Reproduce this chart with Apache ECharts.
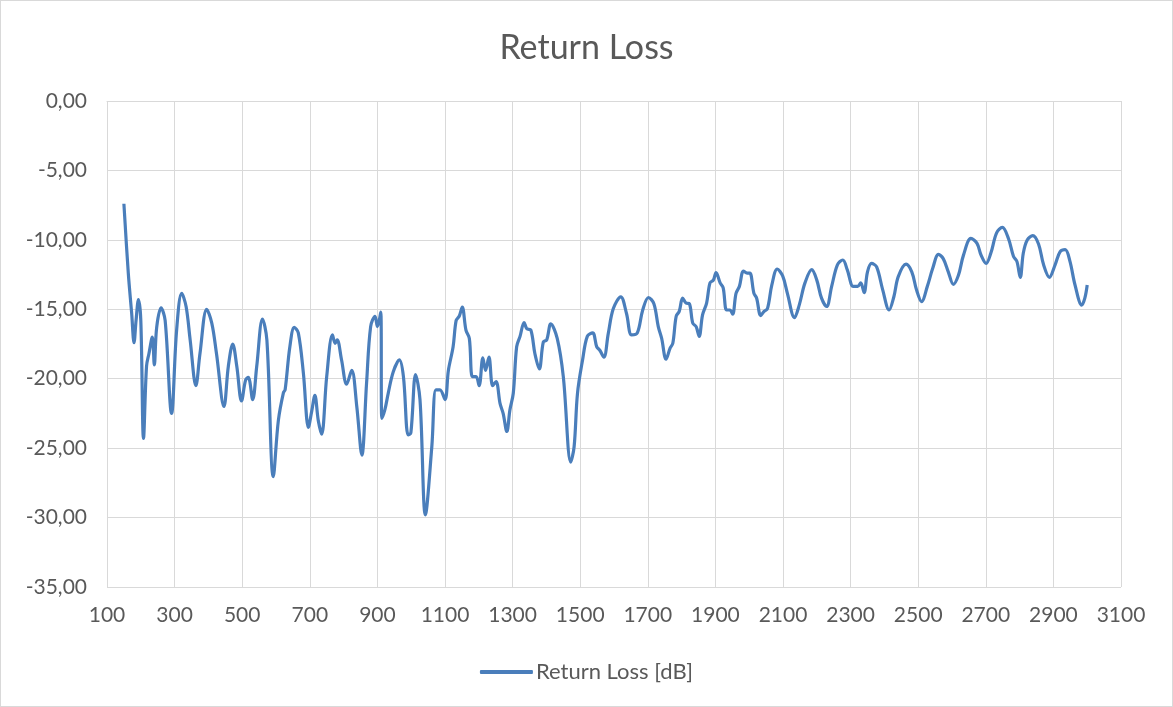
<!DOCTYPE html>
<html>
<head>
<meta charset="utf-8">
<script src="https://cdn.jsdelivr.net/npm/echarts@6/dist/echarts.min.js"></script>
<style>
html,body{margin:0;padding:0;background:#fff;}
#chart{width:1173px;height:707px;box-sizing:border-box;border:1px solid #d9d9d9;}
</style>
</head>
<body>
<div id="chart"></div>
<script>
const titleText = 'Return Loss';
const seriesName = 'Return Loss [dB]';
const freq = [150,163,173,180,186,193,200,208,217,224,234,240,247,260,272,291,306,321,334,346,363,375,395,410,424,446,459,472,484,498,510,518,531,543,560,573,592,607,622,627,641,654,666,681,696,706,715,725,735,750,767,775,781,794,809,824,839,854,868,880,893,900,910,913,922,932,947,965,977,991,999,1013,1026,1042,1061,1073,1085,1100,1110,1124,1133,1142,1151,1162,1172,1181,1192,1201,1212,1220,1230,1241,1251,1263,1272,1283,1292,1302,1312,1322,1334,1342,1354,1366,1379,1391,1401,1413,1432,1450,1472,1482,1492,1507,1521,1537,1549,1558,1570,1583,1598,1620,1637,1652,1669,1685,1702,1718,1731,1741,1754,1766,1774,1784,1793,1803,1813,1823,1833,1843,1852,1862,1874,1884,1894,1902,1914,1923,1933,1943,1951,1961,1971,1983,1994,2002,2014,2022,2034,2044,2054,2067,2083,2099,2113,2134,2148,2165,2185,2200,2214,2229,2244,2261,2277,2290,2308,2321,2330,2340,2350,2362,2377,2395,2414,2428,2441,2464,2481,2495,2510,2527,2543,2560,2574,2589,2604,2619,2634,2656,2674,2686,2701,2715,2732,2749,2767,2782,2792,2802,2811,2823,2839,2856,2871,2888,2905,2920,2935,2949,2964,2984,2993,3000];
const returnLoss = [-7.4,-12.4,-15.3,-17.4,-15.8,-14.3,-15.8,-24.3,-19.1,-18.2,-17.0,-19.0,-16.3,-14.9,-15.8,-22.5,-16.5,-13.85,-14.8,-17.2,-20.5,-18.2,-15.0,-16.0,-18.2,-22.0,-19.1,-17.5,-19.1,-21.6,-20.1,-19.9,-21.5,-19.1,-15.7,-17.2,-27.05,-23.0,-21.0,-20.8,-17.7,-16.3,-16.7,-19.6,-23.5,-22.3,-21.2,-23.0,-24.0,-19.85,-16.85,-17.45,-17.2,-18.65,-20.4,-19.4,-22.0,-25.5,-20.3,-16.25,-15.5,-16.25,-15.2,-22.85,-22.25,-21.05,-19.5,-18.65,-19.85,-24.05,-23.9,-19.7,-21.5,-29.8,-24.9,-20.8,-20.8,-21.5,-19.4,-17.7,-15.8,-15.5,-14.85,-16.5,-17.1,-19.85,-19.85,-20.5,-18.5,-19.4,-18.45,-20.5,-20.2,-21.8,-22.5,-23.8,-22.25,-21.05,-17.7,-16.95,-15.95,-16.4,-16.5,-18.2,-19.3,-17.35,-17.2,-16.05,-17.1,-19.85,-26.0,-24.9,-21.05,-18.65,-16.95,-16.7,-17.7,-17.95,-18.45,-16.75,-14.95,-14.1,-15.3,-16.85,-16.7,-15.05,-14.15,-14.6,-16.25,-17.1,-18.6,-17.8,-17.45,-15.5,-15.15,-14.2,-14.55,-14.6,-16.0,-16.25,-16.95,-15.4,-14.55,-13.1,-12.9,-12.35,-13.1,-13.45,-15.05,-15.05,-15.35,-13.85,-13.35,-12.25,-12.4,-12.4,-13.85,-14.2,-15.45,-15.15,-14.95,-13.25,-12.1,-12.6,-13.85,-15.6,-14.7,-13.1,-12.15,-12.9,-14.2,-14.8,-13.35,-11.8,-11.45,-12.15,-13.35,-13.35,-13.1,-13.8,-12.3,-11.7,-11.95,-13.6,-15.05,-14.1,-12.65,-11.75,-12.3,-13.6,-14.45,-13.35,-12.05,-11.05,-11.35,-12.3,-13.2,-12.55,-11.1,-9.9,-10.25,-11.1,-11.7,-10.95,-9.5,-9.1,-9.9,-11.2,-11.55,-12.7,-10.95,-10.0,-9.7,-10.3,-11.8,-12.7,-11.8,-10.85,-10.7,-11.55,-13.25,-14.7,-14.2,-13.25];

const data = freq.map((f, i) => [f, returnLoss[i]]);
const font = 'Lato, "Open Sans", sans-serif';
const grey = '#595959';
const gridColor = '#d9d9d9';

const chart = echarts.init(document.getElementById('chart'), null, {renderer: 'canvas'});
chart.setOption({
  animation: false,
  title: {
    text: titleText, left: 'center', top: 25,
    textStyle: {fontFamily: font, fontSize: 34, fontWeight: 'normal', color: grey}
  },
  grid: {left: 106, right: 51, top: 100, bottom: 119, containLabel: false},
  legend: {
    bottom: 18, left: 'center',
    icon: 'roundRect', itemWidth: 53, itemHeight: 4,
    textStyle: {fontFamily: font, fontSize: 22, color: grey, padding: [0,0,0,-2]},
    itemGap: 5,
    data: [seriesName]
  },
  xAxis: {
    type: 'value', min: 100, max: 3100, interval: 200,
    axisLine: {show: true, lineStyle: {color: gridColor, width: 1}},
    axisTick: {show: false},
    splitLine: {show: true, lineStyle: {color: gridColor, width: 1}},
    axisLabel: {fontFamily: font, fontSize: 21, color: grey, margin: 18,
      formatter: v => String(v)}
  },
  yAxis: {
    type: 'value', min: -35, max: 0, interval: 5,
    axisLine: {show: false},
    axisTick: {show: false},
    splitLine: {show: true, lineStyle: {color: gridColor, width: 1}},
    axisLabel: {fontFamily: font, fontSize: 21, color: grey, margin: 20,
      formatter: v => v.toFixed(2).replace('.', ',')}
  },
  series: [{
    name: seriesName, type: 'line', data: data,
    showSymbol: false, smooth: 0.35,
    lineStyle: {color: '#4a7ebb', width: 3.2},
    itemStyle: {color: '#4a7ebb'}
  }]
});
</script>
</body>
</html>
